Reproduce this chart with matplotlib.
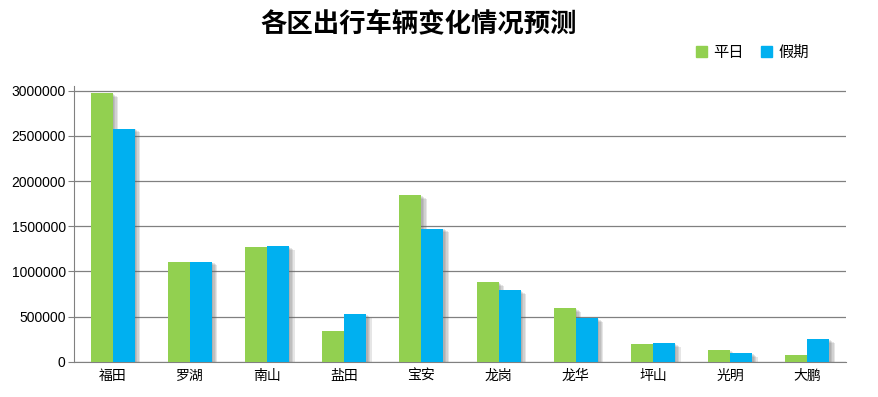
import matplotlib
matplotlib.use("Agg")
import matplotlib.pyplot as plt
import matplotlib.patheffects as pe
from matplotlib.patches import Patch
import numpy as np

plt.rcParams['font.family'] = ['Liberation Sans', 'Noto Sans CJK SC', 'DejaVu Sans']

#####################################################################
districts = ['福田', '罗湖', '南山', '盐田', '宝安', '龙岗', '龙华', '坪山', '光明', '大鹏']
weekday = [2970000, 1100000, 1275000, 345000, 1840000, 886000, 600000, 200000, 135000, 80000]
holiday = [2580000, 1110000, 1285000, 530000, 1475000, 790000, 490000, 210000, 100000, 258000]
series_names = ['平日', '假期']
colors = ['#92D050', '#00B0F0']

#####################################################################
fig = plt.figure(figsize=(8.79, 3.97), dpi=100)
ax = fig.add_axes([0.0842, 0.0882, 0.8783, 0.6952])

x = np.arange(len(districts))
w = 0.285
# soft shadow: a few stacked offsets
shadow = [pe.SimplePatchShadow(offset=(k, -k * 0.7), shadow_rgbFace='#666666', alpha=0.16)
          for k in (4, 3, 2, 1)] + [pe.Normal()]

b1 = ax.bar(x - w / 2, weekday, w, color=colors[0], zorder=3)
b2 = ax.bar(x + w / 2, holiday, w, color=colors[1], zorder=3)
for b in list(b1) + list(b2):
    b.set_path_effects(shadow)

ax.set_xlim(-0.5, len(districts) - 0.5)
ax.set_ylim(0, 3050000)
ax.set_yticks(np.arange(0, 3000001, 500000))
ax.set_yticklabels([str(v) for v in range(0, 3000001, 500000)], fontsize=10)
ax.set_xticks(x)
ax.set_xticklabels(districts, fontsize=10, family=['Noto Sans CJK SC'])
ax.tick_params(axis='x', length=0, pad=5)
ax.tick_params(axis='y', length=4, color='#808080', pad=2)

ax.yaxis.grid(True, color='#808080', linewidth=0.9, zorder=0)
for s in ['top', 'right']:
    ax.spines[s].set_visible(False)
ax.spines['left'].set_color('#808080')
ax.spines['bottom'].set_color('#808080')

fig.text(0.476, 0.937, '各区出行车辆变化情况预测', ha='center', va='center',
         fontsize=19, fontweight='bold', family=['Noto Sans CJK SC'])

handles = [Patch(color=c) for c in colors]
fig.legend(handles=handles, labels=series_names, loc='center', bbox_to_anchor=(0.856, 0.868),
           ncol=2, frameon=False, handlelength=0.75, handleheight=0.75,
           handletextpad=0.4, columnspacing=1.1, prop={'family': 'Noto Sans CJK SC', 'size': 11})

fig.savefig('out.png', dpi=100)
